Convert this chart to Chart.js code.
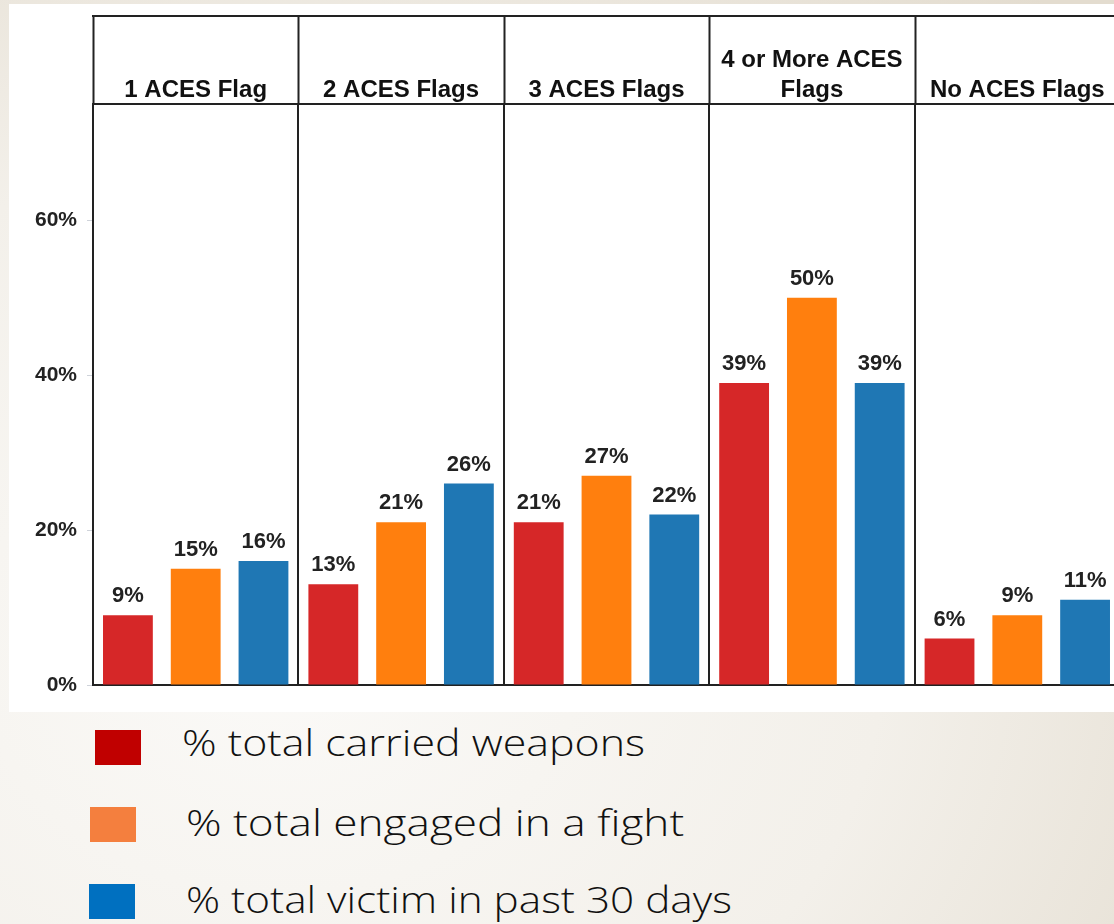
<!DOCTYPE html>
<html>
<head>
<meta charset="utf-8">
<script src="https://cdn.jsdelivr.net/npm/chart.js@4"></script>
<style>
    body {
        margin: 0;
        width: 1114px;
        height: 924px;
        overflow: hidden;
        position: relative;
        background: radial-gradient(ellipse 1100px 900px at 25% 70%, #fbfaf8 0%, #f3f0ea 55%, #e3dccf 100%);
    }
    #paper {
        position: absolute;
        left: 9px;
        top: 4px;
        width: 1200px;
        height: 708px;
        background: #ffffff;
    }
    #chartBox {
        position: absolute;
        left: 0;
        top: 0;
        width: 1130px;
        height: 712px;
    }
    .key {
        position: absolute;
        width: 46px;
        height: 35px;
    }
    .keyText {
        position: absolute;
        font-family: "Open Sans", "DejaVu Sans", sans-serif;
        font-weight: 300;
        font-size: 36px;
        line-height: 1;
        color: #111;
        white-space: nowrap;
        transform-origin: 0 0;
    }
</style>
</head>
<body>
<div id="paper"></div>
<div id="chartBox"><canvas id="myChart"></canvas></div>

<div class="key" style="left:95px; top:730px; background:#c00000;"></div>
<div class="keyText" data-w="463" style="left:182px; top:725px;">% total carried weapons</div>
<div class="key" style="left:90px; top:807px; background:#f47f3e;"></div>
<div class="keyText" data-w="498" style="left:186px; top:805px;">% total engaged in a fight</div>
<div class="key" style="left:89px; top:884px; background:#0070c0;"></div>
<div class="keyText" data-w="546" style="left:186px; top:882px;">% total victim in past 30 days</div>

<script>
// panels along the top
const categories = ["1 ACES Flag", "2 ACES Flags", "3 ACES Flags", ["4 or More ACES", "Flags"], "No ACES Flags"];

// series values (%)
const carriedWeapons = [9, 13, 21, 39, 6];
const engagedFight = [15, 21, 27, 50, 9];
const victim30Days = [16, 26, 22, 39, 11];

const seriesNames = ["% total carried weapons", "% total engaged in a fight", "% total victim in past 30 days"];
const barColors = ["#d62728", "#ff7f0e", "#1f77b4"];

const yTicks = [0, 20, 40, 60];
const yMax = 75;

// widen the legend lines to the width they have in the slide (wide font there)
document.querySelectorAll(".keyText").forEach((el) => {
    const target = Number(el.dataset.w);
    const k = target / el.getBoundingClientRect().width;
    el.style.transform = "scaleX(" + k.toFixed(3) + ")";
});

// header boxes above the plot, one per category
const panelHeader = {
    id: "panelHeader",
    afterDraw: (chart) => {
        const ctx = chart.ctx;
        const x = chart.scales.x;
        const area = chart.chartArea;
        const top = 16;
        const step = x.width / categories.length;

        ctx.save();
        ctx.strokeStyle = "#222";
        ctx.lineWidth = 2;
        ctx.beginPath();
        ctx.moveTo(area.left - 1, top);
        ctx.lineTo(chart.width, top);
        ctx.moveTo(area.left - 1, area.top);
        ctx.lineTo(chart.width, area.top);
        for (let i = 0; i <= categories.length; i++) {
            const px = Math.round(area.left + i * step) + 0.5;
            ctx.moveTo(px, top);
            ctx.lineTo(px, area.top);
        }
        ctx.stroke();

        ctx.fillStyle = "#111";
        ctx.font = "bold 24px Arial, 'Liberation Sans', sans-serif";
        ctx.textAlign = "center";
        ctx.textBaseline = "alphabetic";
        categories.forEach((label, i) => {
            const lines = Array.isArray(label) ? label : [label];
            const cx = x.getPixelForValue(i);
            lines.forEach((line, j) => {
                ctx.fillText(line, cx, area.top - 7 - (lines.length - 1 - j) * 30);
            });
        });
        ctx.restore();
    }
};

// value labels over each bar
const valueLabels = {
    id: "valueLabels",
    afterDatasetsDraw: (chart) => {
        const ctx = chart.ctx;
        ctx.save();
        ctx.fillStyle = "#222";
        ctx.font = "bold 22px Arial, 'Liberation Sans', sans-serif";
        ctx.textAlign = "center";
        ctx.textBaseline = "alphabetic";
        chart.data.datasets.forEach((ds, i) => {
            chart.getDatasetMeta(i).data.forEach((bar, j) => {
                ctx.fillText(ds.data[j] + "%", bar.x, bar.y - 13);
            });
        });
        ctx.restore();
    }
};

const ctx = document.getElementById("myChart").getContext("2d");
const myChart = new Chart(ctx, {
    type: "bar",
    data: {
        labels: categories,
        datasets: [carriedWeapons, engagedFight, victim30Days].map((values, i) => ({
            label: seriesNames[i],
            data: values,
            backgroundColor: barColors[i],
            borderWidth: 0,
            categoryPercentage: 0.99,
            barPercentage: 0.735
        }))
    },
    options: {
        responsive: true,
        maintainAspectRatio: false,
        animation: false,
        layout: {
            padding: { top: 104, right: 10, bottom: 27, left: 0 }
        },
        plugins: {
            legend: { display: false },
            tooltip: { enabled: false }
        },
        scales: {
            x: {
                offset: true,
                grid: { offset: true, color: "#222", lineWidth: 2, drawTicks: false },
                border: { color: "#222", width: 2 },
                ticks: { display: false },
                afterFit: (scale) => { scale.height = 0; }
            },
            y: {
                min: 0,
                max: yMax,
                afterBuildTicks: (scale) => {
                    scale.ticks = yTicks.map(v => ({ value: v }));
                },
                afterFit: (scale) => { scale.width = 93; },
                grid: { drawOnChartArea: false, drawTicks: true, tickLength: 6, color: "#cfd3da" },
                border: { color: "#222", width: 2 },
                ticks: {
                    padding: 10,
                    color: "#222",
                    font: { family: "Arial, 'Liberation Sans', sans-serif", size: 21, weight: "bold" },
                    callback: (v) => v + "%"
                }
            }
        }
    },
    plugins: [panelHeader, valueLabels]
});
</script>
</body>
</html>
